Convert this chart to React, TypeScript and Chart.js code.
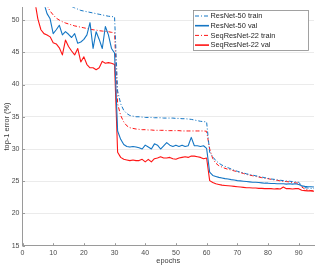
import React, { useEffect, useRef } from "react";
import { Chart, registerables } from "chart.js";

Chart.register(...registerables);

const epochs = [
  1, 2, 3, 4, 5, 6, 7, 8, 9, 10, 11, 12, 13, 14, 15, 16, 17, 18, 19, 20,
  21, 22, 23, 24, 25, 26, 27, 28, 29, 30, 31, 32, 33, 34, 35, 36, 37, 38, 39, 40,
  41, 42, 43, 44, 45, 46, 47, 48, 49, 50, 51, 52, 53, 54, 55, 56, 57, 58, 59, 60,
  61, 62, 63, 64, 65, 66, 67, 68, 69, 70, 71, 72, 73, 74, 75, 76, 77, 78, 79, 80,
  81, 82, 83, 84, 85, 86, 87, 88, 89, 90, 91, 92, 93, 94, 95,
];

const resnetTrain = [
  88, 75, 68, 64, 61, 59, 57.5, 56.5, 55.6, 54.9, 54.3, 53.7, 53.2, 52.8, 52.4, 52.1, 51.9, 51.7, 51.5, 51.4,
  51.3, 51.2, 51.1, 51.0, 50.9, 50.8, 50.7, 50.6, 50.55, 50.5, 39.0, 37.0, 36.0, 35.5, 35.2, 35.1, 35.0, 35.0, 34.95, 34.9,
  34.9, 34.9, 34.85, 34.85, 34.85, 34.8, 34.8, 34.8, 34.8, 34.75, 34.75, 34.7, 34.7, 34.65, 34.6, 34.5, 34.4, 34.3, 34.25, 34.2,
  29.5, 28.8, 28.2, 27.8, 27.5, 27.3, 27.1, 26.9, 26.7, 26.55, 26.4, 26.3, 26.15, 26.05, 25.95, 25.85, 25.75, 25.65, 25.55, 25.45,
  25.35, 25.3, 25.2, 25.15, 25.1, 25.05, 25.0, 24.95, 24.9, 24.85, 24.3, 24.0, 23.95, 23.9, 23.85,
];

const resnetVal = [
  85, 72, 65, 60, 57, 54.5, 52.6, 51.0, 50.2, 47.9, 48.5, 49.2, 47.7, 48.2, 47.8, 47.3, 47.9, 46.4, 46.6, 47.0,
  47.7, 49.6, 45.6, 48.2, 47.0, 45.6, 49.0, 47.7, 45.6, 44.9, 32.8, 31.5, 30.7, 30.4, 30.3, 30.4, 30.3, 30.2, 30.0, 30.6,
  30.3, 30.0, 30.8, 30.6, 30.0, 30.5, 31.0, 30.6, 30.4, 30.6, 30.4, 30.6, 30.4, 30.5, 31.8, 30.5, 30.5, 30.4, 30.5, 30.1,
  26.4, 25.9, 25.75, 25.6, 25.5, 25.4, 25.35, 25.25, 25.2, 25.1, 25.05, 25.0, 24.95, 24.9, 24.85, 24.85, 24.8, 24.75, 24.7, 24.7,
  24.65, 24.65, 24.6, 24.6, 24.6, 24.55, 24.6, 24.55, 24.6, 24.5, 24.3, 24.2, 24.15, 24.15, 24.1,
];

const seqTrain = [
  80, 68, 61, 57, 55, 53.8, 52.9, 52.2, 51.4, 50.8, 50.3, 50.0, 49.75, 49.55, 49.4, 49.25, 49.1, 49.0, 48.9, 48.8,
  48.7, 48.6, 48.5, 48.45, 48.35, 48.3, 48.25, 48.2, 48.1, 48.05, 37.0, 35.2, 34.2, 33.6, 33.3, 33.2, 33.1, 33.05, 33.0, 33.0,
  32.95, 32.95, 32.9, 32.9, 32.9, 32.9, 32.85, 32.85, 32.85, 32.85, 32.85, 32.8, 32.8, 32.8, 32.8, 32.8, 32.8, 32.8, 32.8, 32.75,
  30.0, 28.5, 27.8, 27.4, 27.2, 27.0, 26.85, 26.75, 26.6, 26.5, 26.35, 26.2, 26.05, 25.95, 25.85, 25.75, 25.65, 25.55, 25.45, 25.4,
  25.3, 25.2, 25.15, 25.05, 25.0, 24.95, 24.9, 24.8, 24.75, 24.7, 24.1, 23.8, 23.65, 23.55, 23.5,
];

const seqVal = [
  75, 63, 57, 53, 50.2, 48.5, 47.9, 47.7, 47.4, 46.5, 46.3, 45.7, 44.6, 46.9, 45.9, 45.2, 44.6, 45.6, 43.5, 44.3,
  43.1, 42.6, 42.6, 42.3, 42.6, 43.6, 43.3, 43.4, 43.3, 43.1, 29.5, 28.7, 28.4, 28.3, 28.2, 28.3, 28.2, 28.2, 28.4, 28.0,
  28.4, 28.0, 28.5, 28.6, 28.8, 28.6, 28.6, 28.7, 28.5, 28.4, 28.6, 28.7, 28.8, 28.7, 28.9, 28.9, 28.8, 28.7, 28.5, 28.6,
  25.1, 24.8, 24.6, 24.5, 24.4, 24.35, 24.3, 24.25, 24.2, 24.15, 24.1, 24.05, 24.0, 24.0, 23.95, 23.95, 23.9, 23.9, 23.85, 23.85,
  23.85, 23.8, 23.85, 23.8, 24.1, 23.85, 23.85, 23.8, 23.85, 23.85, 23.6, 23.55, 23.5, 23.5, 23.45,
];

const seriesLabels = ["ResNet-50 train", "ResNet-50 val", "SeqResNet-22 train", "SeqResNet-22 val"];
const xTickValues = [0, 10, 20, 30, 40, 50, 60, 70, 80, 90];
const yTickValues = [15, 20, 25, 30, 35, 40, 45, 50];

const BLUE = "rgb(20,118,196)";
const RED = "rgb(255,20,20)";
const DASHDOT = [4, 2, 1, 2];
const FONT = '"Liberation Sans", Arial, Helvetica, sans-serif';

const overlayPlugin = {
  id: "overlay",
  afterDraw(chart: any) {
    const { ctx, chartArea, scales } = chart;
    ctx.save();
    ctx.strokeStyle = "#9a9a9a";
    ctx.lineWidth = 1;
    ctx.setLineDash([]);
    xTickValues.forEach((v) => {
      const px = Math.round(scales.x.getPixelForValue(v)) + 0.5;
      ctx.beginPath();
      ctx.moveTo(px, chartArea.bottom);
      ctx.lineTo(px, chartArea.bottom - 2.5);
      ctx.stroke();
    });
    yTickValues.forEach((v) => {
      const py = Math.round(scales.y.getPixelForValue(v)) + 0.5;
      ctx.beginPath();
      ctx.moveTo(chartArea.left, py);
      ctx.lineTo(chartArea.left + 2.5, py);
      ctx.stroke();
    });

    // legend box
    const bx = 193.5, by = 10.5, bw = 115, bh = 40;
    ctx.fillStyle = "#ffffff";
    ctx.fillRect(bx, by, bw, bh);
    ctx.strokeStyle = "#8a8a8a";
    ctx.lineWidth = 0.8;
    ctx.strokeRect(bx, by, bw, bh);
    ctx.font = `7.4px ${FONT}`;
    ctx.textBaseline = "middle";
    ctx.textAlign = "left";
    chart.data.datasets.forEach((ds: any, i: number) => {
      const y = by + 5.5 + i * 9.7;
      ctx.strokeStyle = ds.borderColor;
      ctx.lineWidth = ds.borderDash && ds.borderDash.length ? 1 : 1.6;
      ctx.setLineDash(ds.borderDash || []);
      ctx.beginPath();
      ctx.moveTo(bx + 1.5, y);
      ctx.lineTo(bx + 15.5, y);
      ctx.stroke();
      ctx.setLineDash([]);
      ctx.fillStyle = "#262626";
      ctx.fillText(ds.label, bx + 17, y + 0.3);
    });
    ctx.restore();
  },
};

export default function App() {
  const canvasRef = useRef<HTMLCanvasElement | null>(null);

  useEffect(() => {
    document.body.style.margin = "0";
    const canvas = canvasRef.current;
    if (!canvas) return;
    const chart = new Chart(canvas, {
      type: "line",
      data: {
        labels: epochs,
        datasets: [
          { label: seriesLabels[0], data: resnetTrain, borderColor: BLUE, borderWidth: 1, borderDash: DASHDOT },
          { label: seriesLabels[1], data: resnetVal, borderColor: BLUE, borderWidth: 1.1 },
          { label: seriesLabels[2], data: seqTrain, borderColor: RED, borderWidth: 1, borderDash: DASHDOT },
          { label: seriesLabels[3], data: seqVal, borderColor: RED, borderWidth: 1.1 },
        ],
      },
      options: {
        responsive: false,
        devicePixelRatio: 1,
        animation: false,
        events: [],
        elements: {
          point: { radius: 0 },
          line: { tension: 0, borderCapStyle: "butt", borderJoinStyle: "round" },
        },
        layout: { padding: { top: 5, right: 10, left: 0, bottom: 0 } },
        plugins: {
          legend: { display: false },
          tooltip: { enabled: false },
        },
        scales: {
          x: {
            type: "linear",
            min: 0,
            max: 95,
            afterFit: (s: any) => {
              s.height = 27.3;
            },
            afterBuildTicks: (s: any) => {
              s.ticks = xTickValues.map((v) => ({ value: v }));
            },
            grid: { color: "rgba(0,0,0,0)", drawTicks: false },
            border: { display: true, color: "#9a9a9a", width: 1 },
            ticks: {
              color: "#4a4a4a",
              font: { family: FONT, size: 7 },
              padding: 3,
              maxRotation: 0,
              autoSkip: false,
            },
            title: {
              display: true,
              text: "epochs",
              color: "#3a3a3a",
              font: { family: FONT, size: 7.4 },
              padding: { top: 0, bottom: 7.5 },
            },
          },
          y: {
            type: "linear",
            min: 15,
            max: 52,
            afterFit: (s: any) => {
              s.width = 22.5;
            },
            afterBuildTicks: (s: any) => {
              s.ticks = yTickValues.map((v) => ({ value: v }));
            },
            grid: { color: "#ebebeb", lineWidth: 1, drawTicks: false },
            border: { display: true, color: "#9a9a9a", width: 1 },
            ticks: {
              color: "#4a4a4a",
              font: { family: FONT, size: 7 },
              padding: 3,
              autoSkip: false,
            },
            title: {
              display: true,
              text: "top-1 error (%)",
              color: "#3a3a3a",
              font: { family: FONT, size: 7.4 },
              padding: { top: 2.5, bottom: 0 },
            },
          },
        },
      },
      plugins: [overlayPlugin],
    } as any);
    return () => chart.destroy();
  }, []);

  return (
    <div style={{ width: 324, height: 273 }}>
      <canvas ref={canvasRef} width={324} height={273} style={{ display: "block", width: 324, height: 273 }} />
    </div>
  );
}
